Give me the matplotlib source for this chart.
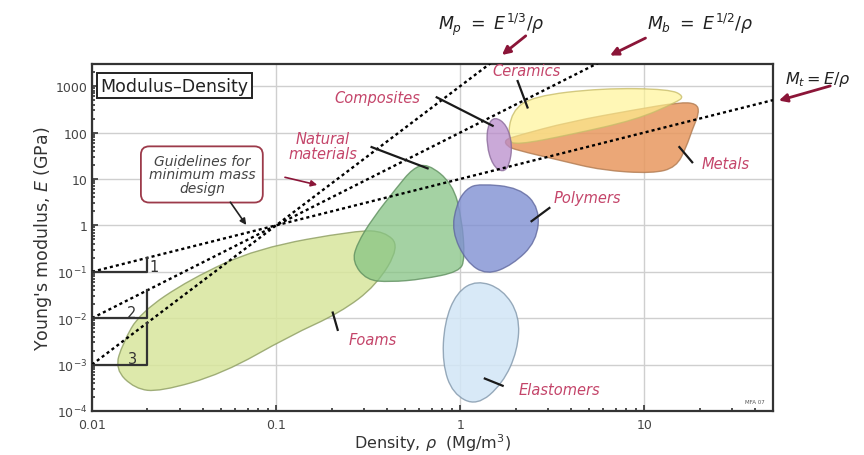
import numpy as np
import matplotlib
matplotlib.use("Agg")
import matplotlib.pyplot as plt
from matplotlib.path import Path
from matplotlib.patches import PathPatch

plt.rcParams["font.family"] = ["DejaVu Sans"]
plt.rcParams["mathtext.fontset"] = "dejavusans"

# material family outlines, (density Mg/m3, modulus GPa)
foams_rho = [0.0133, 0.0171, 0.0234, 0.0514, 0.119, 0.222, 0.351, 0.469, 0.389, 0.274, 0.0786, 0.034, 0.0182, 0.0147]
foams_E = [8e-4, 3.0e-4, 2.6e-4, 6.4e-4, 4.2e-3, 0.013, 0.051, 0.35, 0.74, 0.78, 0.32, 0.069, 0.013, 2.9e-3]

natural_rho = [0.665, 0.91, 1.02, 1.06, 0.99, 0.625, 0.414, 0.31, 0.26, 0.274, 0.335, 0.452, 0.552]
natural_E = [21.7, 7.9, 1.43, 0.19, 0.1, 0.069, 0.06, 0.066, 0.163, 0.39, 1.43, 6.5, 16.9]

polymers_rho = [1.27, 2.1, 2.7, 2.6, 1.92, 1.39, 1.08, 0.9, 0.955, 1.08]
polymers_E = [7.9, 6.5, 2.35, 0.45, 0.14, 0.085, 0.163, 0.74, 2.9, 6.2]

elast_rho = [1.23, 1.70, 2.1, 2.05, 1.70, 1.23, 0.91, 0.80, 0.82, 0.955]
elast_E = [0.066, 0.042, 0.0114, 2.0e-3, 3.9e-4, 1.28e-4, 2.35e-4, 1.06e-3, 7.9e-3, 0.036]

metals_rho = [1.74, 2.02, 3.92, 9.06, 15.5, 19.2, 19.9, 18.2, 16.9, 14.9, 11.1, 5.9, 3.46, 2.02, 1.79]
metals_E = [69.3, 84.7, 171, 314, 447, 425, 270, 114.5, 48.6, 17.8, 13.1, 15.3, 25.3, 41.9, 51]

ceramics_rho = [1.81, 1.90, 2.47, 5.9, 13.7, 16.5, 14.9, 9.06, 3.92, 2.02]
ceramics_E = [69, 284, 604, 904, 860, 604, 447, 189, 89, 54]

comp_rho = [1.54, 1.79, 1.92, 1.85, 1.70, 1.50, 1.39, 1.41]
comp_E = [221, 147, 54, 19.6, 13.8, 19.6, 54, 147]

# guidelines: slope and modulus at rho = 0.01
guide_slopes = [1, 2, 3]
guide_E0 = [0.1, 0.01, 0.001]

label_names = ["Ceramics", "Composites", "Natural\nmaterials", "Metals", "Polymers", "Foams", "Elastomers"]
label_rho = [2.3, 0.356, 0.179, 27.5, 4.91, 0.335, 3.46]
label_E = [2130, 574, 51, 21.7, 3.9, 3.4e-3, 2.9e-4]
leader_start = [(2.05, 1286), (0.745, 574), (0.33, 48.6), (15.5, 48.6), (3.05, 2.37), (0.203, 0.0132), (1.36, 5.0e-4)]
leader_end = [(2.32, 347), (1.50, 140), (0.665, 16.9), (18.2, 22.9), (2.44, 1.23), (0.216, 5.6e-3), (1.70, 3.5e-4)]


def blob(ax, rho, E, fc, ec, alpha):
    lp = np.log10(np.column_stack([rho, E]))
    mids = (lp + np.roll(lp, -1, axis=0)) / 2
    verts = [mids[-1]]
    codes = [Path.MOVETO]
    for i in range(len(lp)):
        verts += [lp[i], mids[i]]
        codes += [Path.CURVE3, Path.CURVE3]
    verts.append(mids[-1])
    codes.append(Path.CLOSEPOLY)
    path = Path(10 ** np.array(verts), codes)
    ax.add_patch(PathPatch(path, facecolor=fc, edgecolor="none", alpha=alpha, zorder=2))
    ax.add_patch(PathPatch(path, facecolor="none", edgecolor=ec, lw=1.0, alpha=0.8, zorder=2))


fig = plt.figure(figsize=(8.64, 4.56), dpi=100)
ax = fig.add_axes([0.1065, 0.0965, 0.7882, 0.761])
ax.set_xscale("log")
ax.set_yscale("log")
ax.set_xlim(0.01, 50)
ax.set_ylim(1e-4, 3000)

ax.grid(True, which="major", color="#cfcfcf", lw=1.0, zorder=0)
for s in ax.spines.values():
    s.set_color("#333333")
    s.set_linewidth(1.6)
ax.tick_params(which="both", direction="in", top=False, right=False, color="#333333")
ax.tick_params(which="major", length=4, width=1.2, labelsize=9, labelcolor="#444444")
ax.tick_params(axis="x", which="major", pad=5)
ax.tick_params(which="minor", length=2.5, width=1.2)
ax.set_xticks([0.01, 0.1, 1, 10])
ax.set_xticklabels(["0.01", "0.1", "1", "10"])
ax.set_yticks([1e-4, 1e-3, 1e-2, 1e-1, 1, 10, 100, 1000])
ax.set_yticklabels(["$10^{-4}$", "$10^{-3}$", "$10^{-2}$", "$10^{-1}$", "1", "10", "100", "1000"])
ax.set_xlabel(r"Density, $\rho$  (Mg/m$^3$)", fontsize=11.5, color="#333333", labelpad=0)
ax.set_ylabel("Young's modulus, $E$ (GPa)", fontsize=12.5, color="#333333", labelpad=1)

blob(ax, foams_rho, foams_E, "#d8e69c", "#8c9c60", 0.85)
blob(ax, natural_rho, natural_E, "#86c484", "#5f8f5f", 0.75)
blob(ax, polymers_rho, polymers_E, "#8090d2", "#60689e", 0.8)
blob(ax, elast_rho, elast_E, "#d2e6f6", "#8096aa", 0.85)
blob(ax, metals_rho, metals_E, "#e8985f", "#b07a50", 0.85)
blob(ax, ceramics_rho, ceramics_E, "#fff490", "#c8bd6a", 0.65)
blob(ax, comp_rho, comp_E, "#b98ccb", "#8a6a9a", 0.75)

# guidelines with slope triangles
rho_line = np.array([0.01, 50])
for k, E0 in zip(guide_slopes, guide_E0):
    ax.plot(rho_line, E0 * (rho_line / 0.01) ** k, color="black", lw=1.7,
            ls=(0, (1.3, 1.3)), zorder=4)
    ax.plot([0.01, 0.02, 0.02], [E0, E0, E0 * 2 ** k], color="#333333", lw=1.6, zorder=4)
ax.text(0.0205, 0.13, "1", fontsize=10.5, color="#333333", va="center", ha="left", zorder=5)
ax.text(0.0165, 0.0135, "2", fontsize=10.5, color="#333333", va="center", ha="center", zorder=5)
ax.text(0.0165, 0.00135, "3", fontsize=10.5, color="#333333", va="center", ha="center", zorder=5)

# family labels and leaders
for name, x, y, s, e in zip(label_names, label_rho, label_E, leader_start, leader_end):
    ax.text(x, y, name, fontsize=10.5, style="italic", color="#c4456a", ha="center",
            va="center", linespacing=1.0, zorder=6)
    ax.plot([s[0], e[0]], [s[1], e[1]], color="#1a1a1a", lw=1.6, zorder=6)

ax.text(0.0395, 12.5, "Guidelines for\nminimum mass\ndesign", fontsize=10, style="italic",
        color="#444444", ha="center", va="center", linespacing=0.95, zorder=6,
        bbox=dict(boxstyle="round,pad=0.55,rounding_size=0.6", fc="white", ec="#9c3a4a", lw=1.3))
ax.annotate("", xy=(0.0702, 0.91), xytext=(0.0553, 3.54),
            arrowprops=dict(arrowstyle="-|>", color="#222222", lw=1.2, mutation_scale=9), zorder=6)
ax.annotate("", xy=(0.173, 7.2), xytext=(0.108, 11.2),
            arrowprops=dict(arrowstyle="-|>", color="#8b1538", lw=1.2, mutation_scale=9), zorder=6)

ax.text(0.012, 0.963, "Modulus\u2013Density", transform=ax.transAxes, fontsize=12.5,
        color="#222222", ha="left", va="top", zorder=7,
        bbox=dict(boxstyle="square,pad=0.2", fc="white", ec="#222222", lw=1.4))
ax.text(40, 1.6e-4, "MFA 07", fontsize=4, color="#555555", ha="center", va="center")

# index labels above the frame
arrow_kw = dict(arrowstyle="-|>", color="#8b1538", lw=2.0, mutation_scale=12)
fig.text(0.569, 0.945, r"$M_p\ =\ E^{1/3}/\rho$", fontsize=12.5, ha="center", va="center", color="#222222")
fig.text(0.810, 0.947, r"$M_b\ =\ E^{1/2}/\rho$", fontsize=12.5, ha="center", va="center", color="#222222")
fig.text(0.9086, 0.825, r"$M_t = E/\rho$", fontsize=11.5, ha="left", va="center", color="#222222")
ax.annotate("", xy=(1.64, 4300), xycoords="data", xytext=(0.611, 0.923),
            textcoords="figure fraction", arrowprops=arrow_kw, annotation_clip=False)
ax.annotate("", xy=(6.31, 4300), xycoords="data", xytext=(0.75, 0.917),
            textcoords="figure fraction", arrowprops=arrow_kw, annotation_clip=False)
ax.annotate("", xy=(52, 470), xycoords="data", xytext=(0.964, 0.811),
            textcoords="figure fraction", arrowprops=arrow_kw, annotation_clip=False)

fig.savefig("out.png", dpi=100)
